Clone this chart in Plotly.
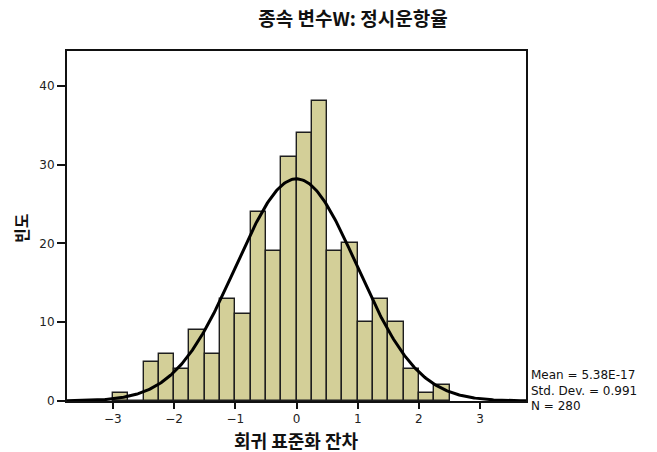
import numpy as np
import plotly.graph_objects as go

# Histogram of standardized regression residuals (bin width 0.25)
bin_starts = [-3.0, -2.75, -2.5, -2.25, -2.0, -1.75, -1.5, -1.25, -1.0, -0.75, -0.5, -0.25,
              0.0, 0.25, 0.5, 0.75, 1.0, 1.25, 1.5, 1.75, 2.0, 2.25]
counts = [1, 0, 5, 6, 4, 9, 6, 13, 11, 24, 19, 31,
          34, 38, 19, 20, 10, 13, 10, 4, 1, 2]
bin_width = 0.25

# Summary statistics shown beside the chart
mean_val = 5.38e-17
std_val = 0.991
n_val = 280

x_ticks = [-3, -2, -1, 0, 1, 2, 3]
y_ticks = [0, 10, 20, 30, 40]

title_text = "종속 변수W: 정시운항율"
x_title = "회귀 표준화 잔차"
y_title = "빈도"

# Layout geometry (pixels)
W, H = 657, 452
ml, mr, mt, mb = 67, 131, 51, 51
pw, ph = W - ml - mr, H - mt - mb

centers = [s + bin_width / 2 for s in bin_starts]

# Fitted normal curve scaled to counts
xs = np.linspace(-3.75, 3.75, 400)
ys = n_val * bin_width / (std_val * np.sqrt(2 * np.pi)) * np.exp(-0.5 * ((xs - mean_val) / std_val) ** 2)

fig = go.Figure()
fig.add_trace(go.Bar(
    x=centers, y=counts, width=bin_width,
    marker=dict(color="#d3cf98", line=dict(color="#1e1e1e", width=1.4)),
    showlegend=False, hoverinfo="x+y",
))
fig.add_trace(go.Scatter(
    x=xs, y=ys, mode="lines",
    line=dict(color="#000000", width=3),
    showlegend=False, hoverinfo="skip",
))

tick_font = dict(family="DejaVu Sans, sans-serif", size=12, color="#222222")
kr_font = "Noto Sans CJK KR, sans-serif"

fig.update_layout(
    width=W, height=H,
    margin=dict(l=ml, r=mr, t=mt, b=mb),
    paper_bgcolor="white", plot_bgcolor="white",
    bargap=0,
    xaxis=dict(
        range=[-3.75, 3.75], tickvals=x_ticks, ticks="outside", ticklen=6,
        tickwidth=1.5, tickcolor="#111111", showgrid=False, zeroline=False,
        showline=True, linecolor="#111111", linewidth=2, mirror=True,
        tickfont=tick_font,
    ),
    yaxis=dict(
        range=[0, 44.4], tickvals=y_ticks, ticks="outside", ticklen=8,
        tickwidth=1.5, tickcolor="#111111", showgrid=False, zeroline=False,
        showline=True, linecolor="#111111", linewidth=2, mirror=True,
        tickfont=tick_font,
    ),
    title=dict(
        text="<b>" + title_text + "</b>", x=353 / W, xanchor="center",
        y=1 - 19 / H, yanchor="middle", xref="container",
        yref="container", font=dict(family=kr_font, size=19, color="#111111"),
    ),
)

fig.add_annotation(
    text="<b>" + x_title + "</b>", xref="paper", yref="paper",
    x=(296 - ml) / pw, y=-(440 - (mt + ph)) / ph, xanchor="center", yanchor="middle",
    showarrow=False, font=dict(family=kr_font, size=18, color="#111111"),
)
fig.add_annotation(
    text="<b>" + y_title + "</b>", xref="paper", yref="paper",
    x=(21 - ml) / pw, y=((mt + ph) - 228) / ph, xanchor="center", yanchor="middle",
    textangle=-90, showarrow=False, font=dict(family=kr_font, size=16, color="#111111"),
)

stat_lines = [
    "Mean = %.2fE-17" % (mean_val / 1e-17),
    "Std. Dev. = %.3f" % std_val,
    "N = %d" % n_val,
]
stat_y = [375, 391, 406]
for line, py in zip(stat_lines, stat_y):
    fig.add_annotation(
        text=line, xref="paper", yref="paper",
        x=(529 - ml) / pw, y=((mt + ph) - py) / ph, xanchor="left", yanchor="middle",
        showarrow=False, font=dict(family="DejaVu Sans, sans-serif", size=12, color="#111111"),
    )

fig.write_html("out.html")
